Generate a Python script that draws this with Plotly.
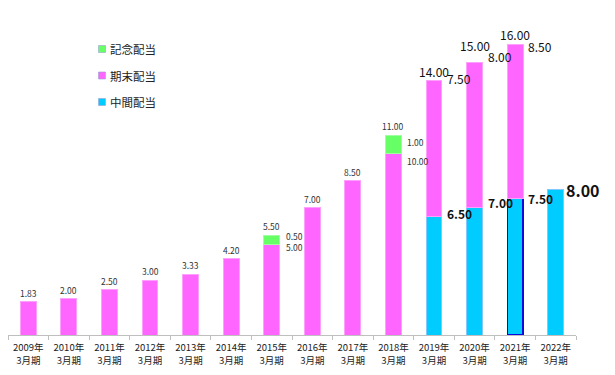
import plotly.graph_objects as go

# ---- data ----
categories = ["2009年<br>3月期", "2010年<br>3月期", "2011年<br>3月期", "2012年<br>3月期",
              "2013年<br>3月期", "2014年<br>3月期", "2015年<br>3月期", "2016年<br>3月期",
              "2017年<br>3月期", "2018年<br>3月期", "2019年<br>3月期", "2020年<br>3月期",
              "2021年<br>3月期", "2022年<br>3月期"]
interim = [None, None, None, None, None, None, None, None, None, None, 6.50, 7.00, 7.50, 8.00]
year_end = [1.83, 2.00, 2.50, 3.00, 3.33, 4.20, 5.00, 7.00, 8.50, 10.00, 7.50, 8.00, 8.50, None]
commemorative = [None, None, None, None, None, None, 0.50, None, None, 1.00, None, None, None, None]
totals = [1.83, 2.00, 2.50, 3.00, 3.33, 4.20, 5.50, 7.00, 8.50, 11.00, 14.00, 15.00, 16.00, None]
legend_names = ["記念配当", "期末配当", "中間配当"]

# ---- style ----
C_COMM = "#66FF66"
C_END = "#FF66FF"
C_INT = "#00CCFF"
FONT = "Noto Sans CJK JP"
W, H = 607, 367
ML, MR, MT, MB = 0, 39, 9, 40

fig = go.Figure()

int_line_colors = ["#0A0ADC" if c.startswith("2021") else "#80C8FF" for c in categories]
int_line_widths = [1.3 if c.startswith("2021") else 1 for c in categories]

fig.add_trace(go.Bar(x=categories, y=interim, marker=dict(color=C_INT,
                     line=dict(color=int_line_colors, width=int_line_widths)),
                     showlegend=False, hoverinfo="skip"))
fig.add_trace(go.Bar(x=categories, y=year_end, marker=dict(color=C_END,
                     line=dict(color="#FFA0FF", width=1)),
                     showlegend=False, hoverinfo="skip"))
fig.add_trace(go.Bar(x=categories, y=commemorative, marker=dict(color=C_COMM,
                     line=dict(color="#A0FFA0", width=1)),
                     showlegend=False, hoverinfo="skip"))

ann = []
shapes = []

# legend (drawn manually: small square + label)
pw, ph = W - ML - MR, H - MT - MB
def px_to_paper(xp, yp):
    # xp, yp in figure pixel coordinates
    return (xp - ML) / pw, (H - MB - yp) / ph

for k, (name, col) in enumerate(zip(legend_names, [C_COMM, C_END, C_INT])):
    sx, sy = px_to_paper(94, 41 + 26.5 * k)
    shapes.append(dict(type="rect", xref="paper", yref="paper",
                       xsizemode="pixel", ysizemode="pixel", xanchor=sx, yanchor=sy,
                       x0=-3.5, x1=3.5, y0=-3.5, y1=3.5,
                       fillcolor=col, line=dict(color="#9AA0D0", width=0.6)))
    ann.append(dict(xref="paper", yref="paper", x=sx, y=sy, text=name, showarrow=False,
                    xanchor="left", yanchor="middle", xshift=6,
                    font=dict(size=11.5, color="#222222", family=FONT)))

big = {10, 11, 12}
total_shift = {10: 9, 11: 17, 12: 10}
end_shift = {10: 2, 11: 6, 12: -2}
int_shift = {10: 3, 11: 5, 12: 0, 13: 0}
for i, cat in enumerate(categories):
    if totals[i] is not None:
        if i in big:
            ann.append(dict(x=cat, y=totals[i], text=f"{totals[i]:.2f}", showarrow=False,
                            yanchor="middle", yshift=total_shift[i],
                            font=dict(size=12, color="#111111", family=FONT)))
        else:
            ann.append(dict(x=cat, y=totals[i], text=f"{totals[i]:.2f}", showarrow=False,
                            yanchor="middle", yshift=9,
                            font=dict(size=8.5, color="#333333", family=FONT)))
    if commemorative[i] is not None:
        top = year_end[i] + commemorative[i]
        small = commemorative[i] < 1
        ann.append(dict(x=cat, y=top, text=f"{commemorative[i]:.2f}", showarrow=False,
                        xanchor="left", xshift=12, yanchor="middle",
                        yshift=-1 if small else -7,
                        font=dict(size=8.5, color="#333333", family=FONT)))
        ann.append(dict(x=cat, y=year_end[i], text=f"{year_end[i]:.2f}", showarrow=False,
                        xanchor="left", xshift=12, yanchor="middle",
                        yshift=-3 if small else -8,
                        font=dict(size=8.5, color="#333333", family=FONT)))
    if i in big:
        ann.append(dict(x=cat, y=totals[i], text=f"{year_end[i]:.2f}", showarrow=False,
                        xanchor="left", xshift=11, yanchor="middle", yshift=end_shift[i],
                        font=dict(size=12, color="#111111", family=FONT)))
    if interim[i] is not None:
        last = i == len(categories) - 1
        ann.append(dict(x=cat, y=interim[i], text=f"<b>{interim[i]:.2f}</b>", showarrow=False,
                        xanchor="left", xshift=8 if last else 11, yanchor="middle",
                        yshift=int_shift[i],
                        font=dict(size=16 if last else 12, color="#111111", family=FONT)))

fig.update_layout(
    width=W, height=H,
    margin=dict(l=ML, r=MR, t=MT, b=MB, autoexpand=False),
    paper_bgcolor="white", plot_bgcolor="white",
    barmode="stack", bargap=0.61,
    font=dict(family=FONT, color="#222222"),
    annotations=ann, shapes=shapes,
    showlegend=False,
    xaxis=dict(type="category", range=[-0.5, len(categories) - 0.5], autorange=False,
               showline=True, linecolor="#BFBFBF", linewidth=1,
               ticks="outside", tickson="boundaries", ticklen=4, tickcolor="#BFBFBF",
               tickangle=0, automargin=False, ticklabelstandoff=4,
               tickfont=dict(size=9.5, color="#222222", family=FONT), showgrid=False,
               fixedrange=True),
    yaxis=dict(range=[0, 17.5], autorange=False, visible=False, showgrid=False,
               fixedrange=True),
)

fig.write_html("out.html")
